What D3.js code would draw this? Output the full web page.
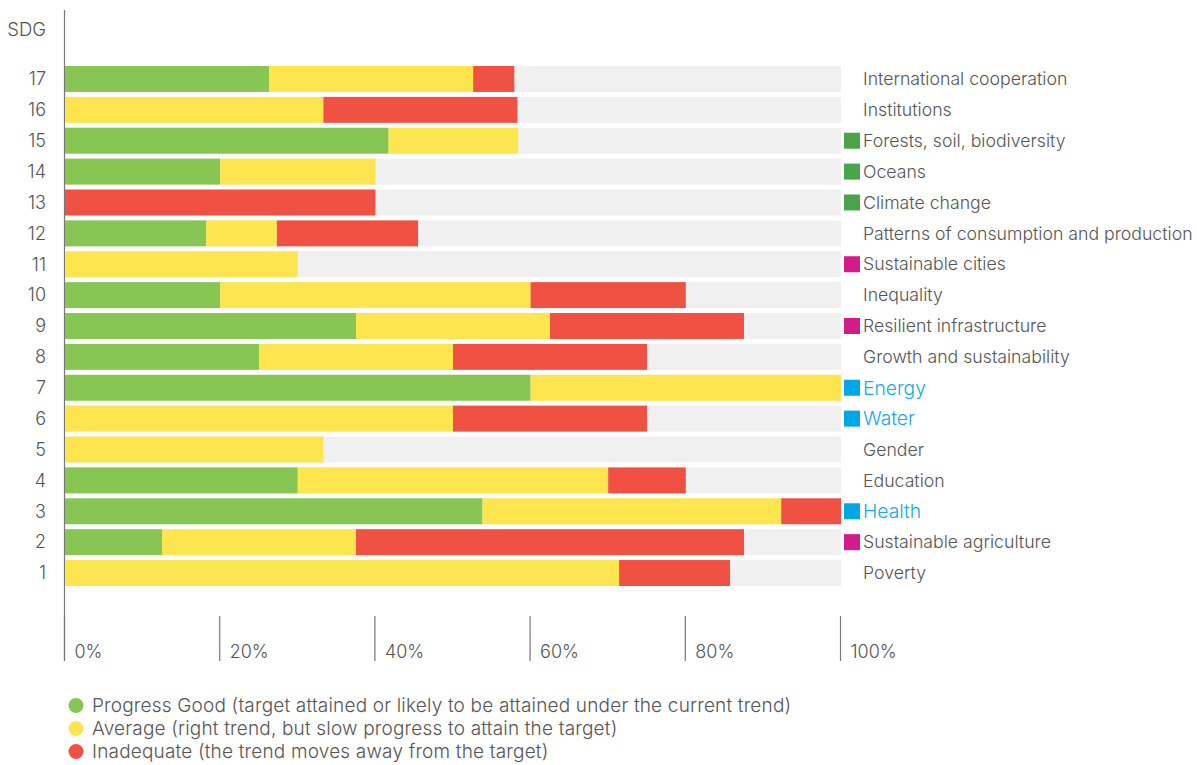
<!DOCTYPE html>
<html><head><meta charset="utf-8">
<script src="https://cdn.jsdelivr.net/npm/d3@7"></script>
<style>
body{margin:0;background:#fff;}
text{font-family:Inter,"Open Sans",sans-serif;font-weight:300;}
</style></head>
<body><svg id="c" width="1197" height="765"></svg>
<script>
const sdg = [17,16,15,14,13,12,11,10,9,8,7,6,5,4,3,2,1];
const names = ["International cooperation","Institutions","Forests, soil, biodiversity","Oceans","Climate change","Patterns of consumption and production","Sustainable cities","Inequality","Resilient infrastructure","Growth and sustainability","Energy","Water","Gender","Education","Health","Sustainable agriculture","Poverty"];
// marker group: g = green (environment), m = magenta, b = blue (highlighted), "" = none
const markers = ["","","g","g","g","","m","","m","","b","b","","","b","m",""];
const good =        [26.3, 0,   41.7, 20, 0,  18.2, 0,  20, 37.5, 25, 60, 0,  0,    30, 53.8, 12.5, 0];
const average =     [26.3, 33.3,16.7, 20, 0,  9.1,  30, 40, 25,   25, 40, 50, 33.3, 40, 38.5, 25,   71.4];
const inadequate =  [5.3,  25,  0,    0,  40, 18.2, 0,  20, 25,   25, 0,  25, 0,    10, 7.7,  50,   14.3];
const ticks = [0,20,40,60,80,100];
const legendLabels = ["Progress Good (target attained or likely to be attained under the current trend)","Average (right trend, but slow progress to attain the target)","Inadequate (the trend moves away from the target)"];
const colors = ["#88c653","#fce54f","#f05142"];
const markerColors = {g:"#4aa54a", m:"#d41b8c", b:"#00a7e6"};

const svg = d3.select("#c");
const x = d3.scaleLinear().domain([0,100]).range([65,841]);
const y = d3.scaleBand().domain(sdg).range([66,586]).paddingInner(0.16).paddingOuter(0);

// axis line
svg.append("line").attr("x1",64.5).attr("x2",64.5).attr("y1",10).attr("y2",661).attr("stroke","#777").attr("stroke-width",1.2);
svg.append("text").attr("x",46).attr("y",36).attr("text-anchor","end").attr("fill","#555").attr("font-size",18.5).text("SDG");

const rows = svg.append("g").selectAll("g").data(sdg).join("g").attr("transform",d=>`translate(0,${y(d)})`);
rows.append("rect").attr("x",x(0)).attr("width",x(100)-x(0)).attr("height",y.bandwidth()).attr("fill","#f0f0f0");
rows.each(function(d,i){
  const g = d3.select(this);
  const vals = [good[i],average[i],inadequate[i]];
  let acc = 0;
  vals.forEach((v,k)=>{
    if(v>0){
      g.append("rect").attr("x",x(acc)).attr("width",x(acc+v)-x(acc)).attr("height",y.bandwidth()).attr("fill",colors[k]);
    }
    acc += v;
  });
  g.append("text").attr("x",46).attr("y",y.bandwidth()/2).attr("dy","0.35em").attr("text-anchor","end").attr("fill","#555").attr("font-size",18).text(d);
  const mk = markers[i];
  if(mk){
    g.append("rect").attr("x",844).attr("y",y.bandwidth()/2-8).attr("width",16).attr("height",16).attr("fill",markerColors[mk]);
  }
  g.append("text").attr("x",863).attr("y",y.bandwidth()/2).attr("dy","0.35em").attr("fill",mk==="b"?"#15aae6":"#555")
    .attr("font-weight",mk==="b"?400:300).attr("font-size",mk==="b"?19.3:17.7).text(names[i]);
});

// x ticks
const tg = svg.append("g").selectAll("g").data(ticks).join("g").attr("transform",d=>`translate(${x(d)-0.5},0)`);
tg.append("line").attr("y1",616).attr("y2",661).attr("stroke","#777").attr("stroke-width",1.2);
tg.append("text").attr("x",10).attr("y",658).attr("fill","#555").attr("font-size",18).text(d=>d+"%");

// legend
const lg = svg.append("g").selectAll("g").data(legendLabels).join("g").attr("transform",(d,i)=>`translate(0,${705.5+i*23})`);
lg.append("circle").attr("cx",76).attr("cy",0).attr("r",7.5).attr("fill",(d,i)=>colors[i]);
lg.append("text").attr("x",92).attr("y",0).attr("dy","0.35em").attr("fill","#555").attr("font-size",19).attr("letter-spacing",0.18).text(d=>d);
</script></body></html>
